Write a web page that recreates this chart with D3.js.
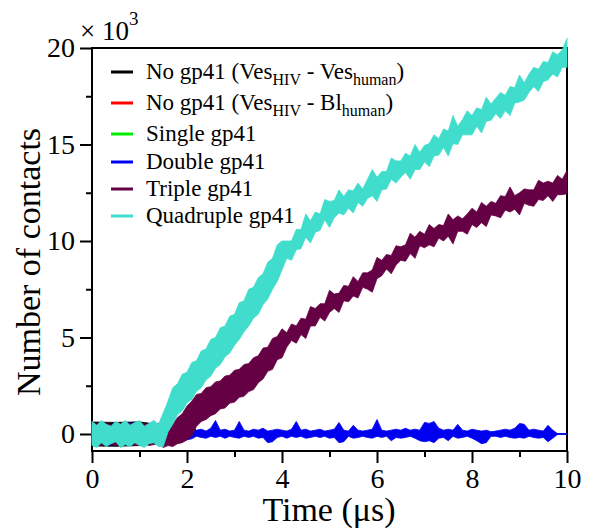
<!DOCTYPE html>
<html>
<head>
<meta charset="utf-8">
<script src="https://cdn.jsdelivr.net/npm/d3@7.9.0/dist/d3.min.js"></script>
<style>
  body { margin: 0; background: #fff; }
</style>
</head>
<body>
<svg id="chart" width="594" height="529"></svg>
<script>
const serifFont = 'Liberation Serif';

// time grid of the traces (µs), one sample every 0.1 µs
const time = d3.range(0, 101).map(i => i / 10);
// coarse grid for the no-gp41 / single traces (mostly hidden under the others)
const timeCoarse = d3.range(0, 21).map(i => i / 2);

// contacts, x 10^3 : upper / lower envelope of each noisy trace
const quadHi = [
  0.65,0.45,0.7,0.5,0.4,0.65,0.5,0.7,0.45,0.6,
  0.7,0.4,0.55,0.7,0.5,1.1,1.7,2.4,2.6,3.1,
  3.2,3.7,3.8,4.3,4.4,4.9,5.0,5.5,5.6,6.1,
  6.2,6.8,6.9,7.5,7.6,8.1,8.3,8.9,9.1,9.8,
  10.0,10.0,10.0,10.6,10.6,11.4,11.05,11.5,11.4,12.15,
  12.05,12.1,12.65,12.3,12.65,12.6,13.0,12.7,13.2,13.7,
  13.3,13.6,13.6,14.3,14.15,14.15,14.55,14.4,15.0,14.6,
  14.95,15.05,15.5,15.3,15.8,15.7,16.5,15.95,16.3,16.75,
  16.5,16.9,16.8,17.45,17.1,17.4,17.7,17.55,18.0,17.95,
  18.6,18.2,18.65,19.0,18.9,19.3,19.25,19.8,19.65,19.9,
  20.5];
const quadLo = [
  -0.6,-0.7,-0.45,-0.65,-0.5,-0.4,-0.7,-0.55,-0.65,-0.45,
  -0.6,-0.7,-0.5,-0.45,-0.65,-0.65,0.1,0.5,1.0,1.2,
  1.6,1.8,2.2,2.4,2.8,3.0,3.4,3.6,4.0,4.2,
  4.6,4.9,5.3,5.6,6.0,6.2,6.7,7.0,7.5,7.9,
  8.5,9.1,9.0,9.55,9.6,10.2,9.9,10.45,10.55,11.1,
  10.7,11.2,11.45,11.35,11.7,11.45,12.0,11.8,12.2,12.35,
  12.05,12.65,12.7,13.2,13.0,13.3,13.55,13.2,13.7,13.7,
  14.1,13.85,14.4,14.45,14.85,14.4,15.05,15.0,15.5,15.5,
  15.5,15.95,15.6,16.2,16.25,16.6,16.35,16.75,16.5,17.15,
  17.2,17.3,17.7,18.0,17.75,18.25,18.35,18.65,18.5,19.0,
  19.0];

const tripleHi = [
  0.5,0.55,0.45,0.55,0.5,0.45,0.55,0.5,0.55,0.45,
  0.5,0.55,0.45,0.5,0.55,0.4,0.6,0.5,0.85,1.05,
  1.45,1.7,2.05,2.1,2.4,2.45,2.7,2.75,3.0,3.05,
  3.3,3.35,3.6,3.65,3.95,4.05,4.45,4.5,4.95,5.05,
  5.45,5.25,5.7,5.6,6.0,5.95,6.6,6.5,6.75,6.75,
  7.45,7.25,7.3,7.7,7.65,8.15,7.9,8.35,8.35,8.5,
  9.15,9.0,9.3,9.25,9.75,9.7,9.8,10.4,10.2,10.5,
  10.35,10.85,10.65,10.85,10.8,11.4,11.1,11.3,11.15,11.4,
  11.7,11.5,12.0,11.8,12.05,11.95,12.35,12.3,12.8,12.35,
  12.5,12.7,12.65,12.65,13.15,13.0,13.1,13.0,13.4,13.2,
  13.65];
const tripleLo = [
  -0.5,-0.55,-0.6,-0.5,-0.55,-0.6,-0.5,-0.55,-0.5,-0.6,
  -0.55,-0.5,-0.6,-0.55,-0.5,-0.7,-0.6,-0.65,-0.5,-0.45,
  -0.3,-0.1,0.4,0.65,0.75,0.95,1.05,1.3,1.35,1.6,
  1.65,1.9,1.95,2.2,2.3,2.65,2.85,3.25,3.35,3.85,
  3.95,4.5,4.85,4.7,5.15,4.95,5.6,5.6,6.05,5.85,
  6.3,6.5,6.3,6.9,6.85,7.15,7.05,7.6,7.5,7.35,
  8.05,8.2,8.55,8.3,8.75,9.0,8.95,9.35,9.1,9.75,
  9.65,9.8,9.7,10.15,10.0,10.25,9.85,10.5,10.5,10.35,
  10.85,10.7,10.95,10.75,11.35,11.3,11.2,11.6,11.5,11.65,
  11.35,11.95,11.85,11.8,12.15,12.1,12.35,12.05,12.4,12.4,
  12.45];

const doubleHi = [
  0.5,0.4,0.6,0.45,0.5,0.55,0.4,0.5,0.6,0.45,
  0.5,0.4,0.55,0.5,0.45,0.4,0.3,0.35,0.3,0.4,
  0.3,0.35,0.2,0.25,0.15,0.3,0.7,0.2,0.25,0.15,
  0.2,0.65,0.2,0.15,0.25,0.2,0.3,0.15,0.2,0.25,
  0.2,0.15,0.25,0.65,0.2,0.25,0.15,0.2,0.25,0.15,
  0.2,0.25,0.6,0.2,0.15,0.45,0.2,0.15,0.2,0.25,
  0.75,0.2,0.15,0.2,0.25,0.2,0.3,0.2,0.25,0.2,
  0.6,0.55,0.65,0.3,0.2,0.25,0.2,0.5,0.2,0.15,
  0.25,0.2,0.15,0.2,0.12,0.15,0.2,0.25,0.2,0.3,
  0.55,0.5,0.2,0.25,0.2,0.15,0.45,0.2,0.02,0.02,
  0.02];
const doubleLo = [
  -0.45,-0.55,-0.4,-0.5,-0.6,-0.45,-0.5,-0.4,-0.55,-0.5,
  -0.45,-0.6,-0.5,-0.4,-0.5,-0.3,-0.35,-0.25,-0.3,-0.4,
  -0.3,-0.25,-0.12,-0.18,-0.22,-0.12,-0.18,-0.12,-0.22,-0.12,
  -0.18,-0.22,-0.12,-0.18,-0.12,-0.22,-0.18,-0.45,-0.4,-0.18,
  -0.12,-0.22,-0.12,-0.18,-0.12,-0.22,-0.18,-0.12,-0.18,-0.12,
  -0.22,-0.18,-0.45,-0.4,-0.12,-0.22,-0.18,-0.12,-0.18,-0.22,
  -0.12,-0.18,-0.12,-0.35,-0.18,-0.22,-0.18,-0.12,-0.22,-0.35,
  -0.4,-0.35,-0.45,-0.22,-0.18,-0.35,-0.12,-0.22,-0.18,-0.12,
  -0.22,-0.35,-0.5,-0.45,-0.12,-0.12,-0.18,-0.12,-0.18,-0.22,
  -0.18,-0.22,-0.12,-0.18,-0.22,-0.18,-0.4,-0.22,-0.02,-0.02,
  -0.02];

// on the coarse grid (0, 0.5, ... 10)
const vesVesHi = [0.62,0.6,0.63,0.45,0.08,0.08,0.08,0.08,0.08,0.08,0.08,0.08,0.08,0.08,0.08,0.08,0.08,0.08,0.08,0,0];
const vesVesLo = [-0.62,-0.64,-0.6,-0.45,-0.08,-0.08,-0.08,-0.08,-0.08,-0.08,-0.08,-0.08,-0.08,-0.08,-0.08,-0.08,-0.08,-0.08,-0.08,0,0];
const vesBlHi = [0.45,0.45,0.45,0.35,0.06,0.06,0.06,0.06,0.06,0.06,0.06,0.06,0.06,0.06,0.06,0.06,0.06,0.06,0.06,0,0];
const vesBlLo = [-0.45,-0.45,-0.45,-0.35,-0.06,-0.06,-0.06,-0.06,-0.06,-0.06,-0.06,-0.06,-0.06,-0.06,-0.06,-0.06,-0.06,-0.06,-0.06,0,0];
const singleHi = [0.4,0.4,0.4,0.3,0.08,0.08,0.08,0.08,0.08,0.08,0.08,0.08,0.08,0.08,0.08,0.08,0.08,0.08,0.08,0,0];
const singleLo = [-0.4,-0.4,-0.4,-0.3,-0.08,-0.08,-0.08,-0.08,-0.08,-0.08,-0.08,-0.08,-0.08,-0.08,-0.08,-0.08,-0.08,-0.08,-0.08,0,0];

const seriesNames = ['vesves', 'vesbl', 'single', 'double', 'triple', 'quad'];
const seriesColors = ['#000000', '#ff0000', '#00ee00', '#0000f0', '#660044', '#40ddcc'];

const xTicks = [0, 2, 4, 6, 8, 10];
const xMinor = [1, 3, 5, 7, 9];
const yTicks = [0, 5, 10, 15, 20];
const yMinor = [2.5, 7.5, 12.5, 17.5];

const traces = [
  { t: timeCoarse, hi: vesVesHi, lo: vesVesLo },
  { t: timeCoarse, hi: vesBlHi, lo: vesBlLo },
  { t: timeCoarse, hi: singleHi, lo: singleLo },
  { t: time, hi: doubleHi, lo: doubleLo },
  { t: time, hi: tripleHi, lo: tripleLo },
  { t: time, hi: quadHi, lo: quadLo },
];

const svg = d3.select('#chart');
const plotLeft = 92, plotRight = 567, plotTop = 48, plotBottom = 451;

const x = d3.scaleLinear().domain([0, 10]).range([plotLeft, plotRight]);
const y = d3.scaleLinear().domain([-0.881, 20]).range([plotBottom, plotTop]);

svg.append('rect').attr('width', 594).attr('height', 529).attr('fill', '#fff');

// frame
svg.append('rect')
  .attr('x', plotLeft).attr('y', plotTop)
  .attr('width', plotRight - plotLeft).attr('height', plotBottom - plotTop)
  .attr('fill', 'none').attr('stroke', '#000').attr('stroke-width', 2);

function styleAxis(g) {
  g.attr('font-family', serifFont).attr('font-size', 28);
  g.select('.domain').remove();
  g.selectAll('line').attr('stroke', '#000').attr('stroke-width', 2);
  g.selectAll('text').attr('fill', '#000');
}

svg.append('g').attr('transform', `translate(0,${plotBottom})`)
  .call(d3.axisBottom(x).tickValues(xTicks).tickSize(12).tickPadding(5).tickFormat(d3.format('d')))
  .call(styleAxis);
svg.append('g').attr('transform', `translate(0,${plotBottom})`)
  .call(d3.axisBottom(x).tickValues(xMinor).tickSize(6).tickFormat(''))
  .call(styleAxis);
svg.append('g').attr('transform', `translate(${plotLeft},0)`)
  .call(d3.axisLeft(y).tickValues(yTicks).tickSize(12).tickPadding(5).tickFormat(d3.format('d')))
  .call(styleAxis);
svg.append('g').attr('transform', `translate(${plotLeft},0)`)
  .call(d3.axisLeft(y).tickValues(yMinor).tickSize(6).tickFormat(''))
  .call(styleAxis);

// traces drawn as filled noise bands
traces.forEach((s, i) => {
  const rows = s.t.map((t, k) => ({ t, hi: s.hi[k], lo: s.lo[k] }));
  const area = d3.area()
    .x(d => x(d.t))
    .y0(d => y(d.lo))
    .y1(d => y(d.hi));
  svg.append('path')
    .datum(rows)
    .attr('class', seriesNames[i])
    .attr('d', area)
    .attr('fill', seriesColors[i])
    .attr('stroke', seriesColors[i])
    .attr('stroke-width', 0.8)
    .attr('stroke-linejoin', 'miter');
});

// axis titles
svg.append('text')
  .attr('x', 329).attr('y', 521)
  .attr('text-anchor', 'middle')
  .attr('font-family', serifFont)
  .attr('font-size', 34)
  .text('Time (μs)');

svg.append('text')
  .attr('transform', 'translate(40,262) rotate(-90)')
  .attr('text-anchor', 'middle')
  .attr('font-family', serifFont)
  .attr('font-size', 34)
  .text('Number of contacts');

// x 10^3 multiplier
const mult = svg.append('text').attr('x', 80).attr('y', 40)
  .attr('font-family', serifFont).attr('font-size', 27);
mult.append('tspan').text('× 10');
mult.append('tspan').attr('font-size', 19).attr('dy', -15).text('3');

// legend
const legendRows = [
  [['No gp41 (Ves', 0], ['HIV', 1], [' - Ves', 0], ['human', 1], [')', 0]],
  [['No gp41 (Ves', 0], ['HIV', 1], [' - Bl', 0], ['human', 1], [')', 0]],
  [['Single gp41', 0]],
  [['Double gp41', 0]],
  [['Triple gp41', 0]],
  [['Quadruple gp41', 0]],
];
const legendY = [72, 103, 134, 162, 189, 216];

legendRows.forEach((parts, i) => {
  svg.append('line')
    .attr('x1', 111).attr('x2', 133)
    .attr('y1', legendY[i]).attr('y2', legendY[i])
    .attr('stroke', seriesColors[i]).attr('stroke-width', 3);
  const t = svg.append('text')
    .attr('x', 146).attr('y', legendY[i] + 7)
    .attr('font-family', serifFont)
    .attr('font-size', 23)
    .style('white-space', 'pre');
  let sub = 0;
  parts.forEach(([str, isSub]) => {
    t.append('tspan')
      .attr('font-size', isSub ? 16 : 23)
      .attr('dy', isSub === sub ? 0 : (isSub ? 6 : -6))
      .text(str);
    sub = isSub;
  });
});
</script>
</body>
</html>
